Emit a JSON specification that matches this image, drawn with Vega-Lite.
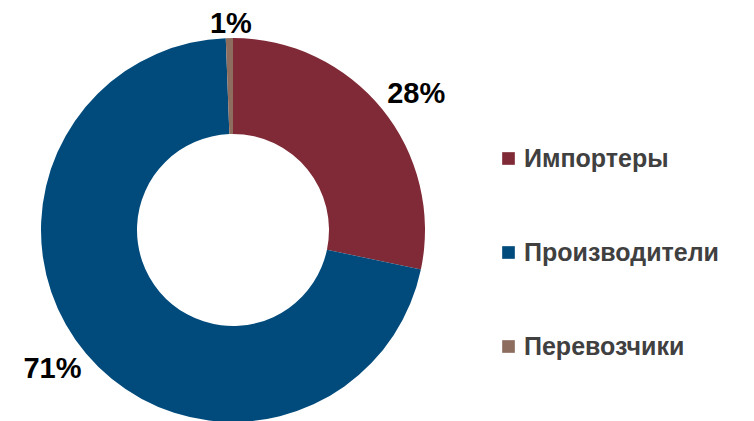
{
  "$schema": "https://vega.github.io/schema/vega-lite/v6.json",
  "autosize": "none",
  "width": 466,
  "height": 382,
  "padding": {"top": 39, "left": 0, "right": 288, "bottom": 0},
  "background": "white",
  "config": {"view": {"stroke": null}},
  "data": {
    "values": [
      {"group": "Импортеры", "value": 28.3, "k": 1, "label": "28%"},
      {"group": "Производители", "value": 71.1, "k": 2, "label": "71%"},
      {"group": "Перевозчики", "value": 0.6, "k": 3, "label": "1%"}
    ]
  },
  "encoding": {
    "theta": {"field": "value", "type": "quantitative", "stack": true},
    "order": {"field": "k", "type": "quantitative"}
  },
  "layer": [
    {
      "mark": {"type": "arc", "outerRadius": 192, "innerRadius": 96},
      "encoding": {
        "color": {
          "field": "group",
          "type": "nominal",
          "scale": {
            "domain": ["Импортеры", "Производители", "Перевозчики"],
            "range": ["#7F2A36", "#004B7C", "#8C6D5E"]
          },
          "legend": {
            "title": null,
            "orient": "none",
            "legendX": 496,
            "legendY": 107,
            "symbolType": "square",
            "symbolSize": 160,
            "symbolStrokeWidth": 0,
            "labelFont": "Liberation Sans",
            "labelFontWeight": "bold",
            "labelFontSize": 25,
            "labelColor": "#404040",
            "labelOffset": 3,
            "rowPadding": 68,
            "labelLimit": 300
          }
        }
      }
    },
    {
      "transform": [{"filter": "datum.k < 3"}],
      "mark": {"type": "text", "radius": 228, "thetaOffset": 0.044, "font": "Liberation Sans", "fontWeight": "bold", "fontSize": 29, "color": "#000000"},
      "encoding": {"text": {"field": "label"}}
    },
    {
      "transform": [{"filter": "datum.k == 3"}],
      "mark": {"type": "text", "radius": 206, "dx": -6, "font": "Liberation Sans", "fontWeight": "bold", "fontSize": 29, "color": "#000000"},
      "encoding": {"text": {"field": "label"}}
    }
  ]
}
